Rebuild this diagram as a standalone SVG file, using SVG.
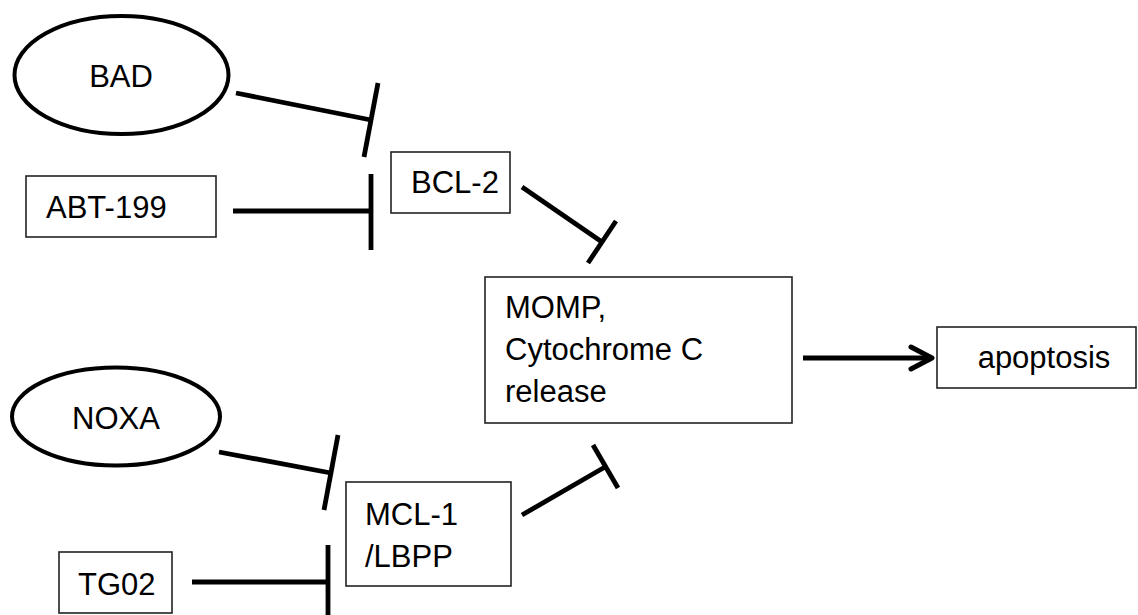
<svg xmlns="http://www.w3.org/2000/svg" width="1138" height="615" viewBox="0 0 1138 615">
  <style>
    .box { fill: #fff; stroke: #222; stroke-width: 1.6; }
    .oval { fill: #fff; stroke: #000; stroke-width: 4; }
    .lbl { font-family: "Liberation Sans", Arial, sans-serif; font-size: 31px; fill: #000; }
    .mid { text-anchor: middle; }
    .edge { stroke: #000; stroke-width: 4.8; fill: none; }
    .head { stroke: #000; stroke-width: 5; fill: none; stroke-linecap: round; stroke-linejoin: round; }
  </style>
  <rect width="1138" height="615" fill="#fff"/>

  <!-- nodes -->
  <g id="bad">
    <ellipse class="oval" cx="121.5" cy="75" rx="107" ry="59"/>
    <text class="lbl mid" x="121" y="87">BAD</text>
  </g>
  <g id="abt199">
    <rect class="box" x="26" y="176" width="190" height="61"/>
    <text class="lbl" x="46" y="218">ABT-199</text>
  </g>
  <g id="bcl2">
    <rect class="box" x="391" y="152" width="119" height="61"/>
    <text class="lbl" x="411" y="193">BCL-2</text>
  </g>
  <g id="momp">
    <rect class="box" x="485" y="277" width="307" height="146"/>
    <text class="lbl" x="505" y="318">MOMP,</text>
    <text class="lbl" x="505" y="360">Cytochrome C</text>
    <text class="lbl" x="505" y="402">release</text>
  </g>
  <g id="apoptosis">
    <rect class="box" x="937" y="327" width="199" height="61"/>
    <text class="lbl mid" x="1044" y="368">apoptosis</text>
  </g>
  <g id="noxa">
    <ellipse class="oval" cx="116" cy="416.5" rx="104" ry="49"/>
    <text class="lbl mid" x="116" y="429">NOXA</text>
  </g>
  <g id="mcl1">
    <rect class="box" x="346" y="482" width="165" height="104"/>
    <text class="lbl" x="365" y="525">MCL-1</text>
    <text class="lbl" x="365" y="567">/LBPP</text>
  </g>
  <g id="tg02">
    <rect class="box" x="59" y="552" width="113" height="61"/>
    <text class="lbl" x="78" y="595">TG02</text>
  </g>

  <!-- connectors: inhibition bars and activation arrow -->
  <g id="connectors">
    <!-- BAD -| BCL-2 -->
    <line class="edge" x1="236" y1="93" x2="371" y2="120"/>
    <line class="edge" x1="378" y1="83" x2="364" y2="157"/>
    <!-- ABT-199 -| BCL-2 -->
    <line class="edge" x1="233" y1="211" x2="371" y2="211"/>
    <line class="edge" x1="371" y1="174" x2="371" y2="250"/>
    <!-- BCL-2 -| MOMP -->
    <line class="edge" x1="522" y1="187" x2="602" y2="242"/>
    <line class="edge" x1="616" y1="221" x2="588" y2="263"/>
    <!-- NOXA -| MCL-1 -->
    <line class="edge" x1="219" y1="452" x2="331" y2="473"/>
    <line class="edge" x1="338" y1="435" x2="324" y2="510"/>
    <!-- TG02 -| MCL-1 -->
    <line class="edge" x1="192" y1="582" x2="328" y2="582"/>
    <line class="edge" x1="328" y1="545" x2="328" y2="615"/>
    <!-- MCL-1 -| MOMP -->
    <line class="edge" x1="522" y1="515" x2="605" y2="467"/>
    <line class="edge" x1="593" y1="445" x2="618" y2="488"/>
    <!-- MOMP -> apoptosis -->
    <line class="edge" x1="803" y1="358" x2="930" y2="358"/>
    <polyline class="head" points="911,347 932,358 911,369"/>
  </g>
</svg>
